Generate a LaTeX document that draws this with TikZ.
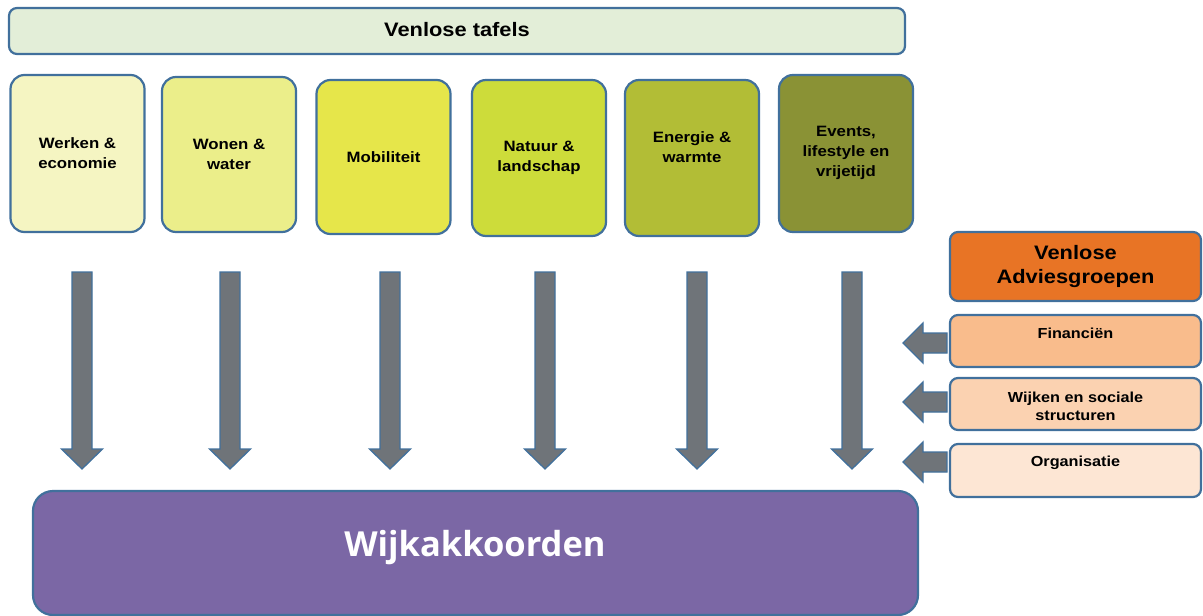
\documentclass[tikz,border=0pt]{standalone}
\usepackage{fontspec}
\setmainfont{Liberation Sans}[FakeStretch=1.12]
\newfontfamily\wijkfont{Open Sans}
\definecolor{edge}{HTML}{41709C}
\definecolor{topfill}{HTML}{E3EED8}
\definecolor{ca}{HTML}{F5F5C2}
\definecolor{cb}{HTML}{EBEE8A}
\definecolor{cc}{HTML}{E6E64A}
\definecolor{cd}{HTML}{CDDC3A}
\definecolor{ce}{HTML}{B2BD36}
\definecolor{cf}{HTML}{8A9235}
\definecolor{orng}{HTML}{E87425}
\definecolor{oa}{HTML}{F9BC8C}
\definecolor{ob}{HTML}{FBD2B1}
\definecolor{oc}{HTML}{FDE6D4}
\definecolor{purp}{HTML}{7B67A5}
\definecolor{arrgray}{HTML}{6F7479}
\newcommand\dnarrow[1]{%
  \draw[blockarrow] ($(#1)+(-10,272)$) -- ($(#1)+(10,272)$) -- ($(#1)+(10,449)$) -- ($(#1)+(20.5,449)$) -- ($(#1)+(0,469)$) -- ($(#1)+(-20.5,449)$) -- ($(#1)+(-10,449)$) -- cycle;}
\newcommand\lfarrow[1]{%
  \draw[blockarrow] ($(903,#1)$) -- ($(923,#1)+(0,-20)$) -- ($(923,#1)+(0,-10)$) -- ($(947,#1)+(0,-10)$) -- ($(947,#1)+(0,10)$) -- ($(923,#1)+(0,10)$) -- ($(923,#1)+(0,20)$) -- cycle;}
\usetikzlibrary{calc}
\begin{document}
\begin{tikzpicture}[x=1pt,y=-1pt,
  box/.style={draw=edge,line width=2.2pt,rounded corners=14pt,inner sep=0pt},
  tbox/.style={box,minimum width=134pt},
  rbox/.style={box,rounded corners=8pt,minimum width=251pt},
  lbl/.style={font=\bfseries\fontsize{15}{20}\selectfont,align=center,text=black},
  slbl/.style={font=\bfseries\fontsize{14.5}{18}\selectfont,align=center,text=black},
  blockarrow/.style={fill=arrgray,draw=edge,line width=1.3pt,line join=miter}]
\useasboundingbox (0,0) rectangle (1203,616);
% top bar
\node[box,rounded corners=8pt,fill=topfill,minimum width=896pt,minimum height=46pt] (top) at (457,31) {};
\node[font=\bfseries\fontsize{19.5}{22}\selectfont] (toplbl) at (457,30) {Venlose tafels};
% tables
\node[tbox,fill=ca,minimum height=157pt] (b1) at (77.5,153.5) {};
\node[tbox,fill=cb,minimum height=155pt] (b2) at (229,154.5) {};
\node[tbox,fill=cc,minimum height=154pt] (b3) at (383.5,157) {};
\node[tbox,fill=cd,minimum height=156pt] (b4) at (539,158) {};
\node[tbox,fill=ce,minimum height=156pt] (b5) at (692,158) {};
\node[tbox,fill=cf,minimum height=157pt] (b6) at (846,153.5) {};
\node[lbl] (t1) at (77.5,153) {Werken \&\\economie};
\node[lbl] (t2) at (229,154) {Wonen \&\\water};
\node[lbl] (t3) at (383.5,157) {Mobiliteit};
\node[lbl] (t4) at (539,157.5) {Natuur \&\\landschap};
\node[lbl] (t5) at (692,147) {Energie \&\\warmte};
\node[lbl] (t6) at (846,153) {Events,\\lifestyle en\\vrijetijd};
% down arrows
\coordinate (a1) at (82,0);
\coordinate (a2) at (230,0);
\coordinate (a3) at (390,0);
\coordinate (a4) at (545,0);
\coordinate (a5) at (697,0);
\coordinate (a6) at (852,0);
\dnarrow{a1}\dnarrow{a2}\dnarrow{a3}\dnarrow{a4}\dnarrow{a5}\dnarrow{a6}
% bottom
\node[box,rounded corners=20pt,fill=purp,minimum width=885pt,minimum height=124pt] (wijk) at (475.5,553) {};
\node[font=\wijkfont\bfseries\fontsize{34.5}{38}\selectfont,text=white] (wijklbl) at (475,548) {Wijkakkoorden};
% right side
\node[rbox,fill=orng,minimum height=69pt] (adv) at (1075.5,266.5) {};
\node[font=\bfseries\fontsize{19.5}{24}\selectfont,align=center] (advlbl) at (1075.5,266) {Venlose\\Adviesgroepen};
\node[rbox,fill=oa,minimum height=52pt] (fin) at (1075.5,341) {};
\node[slbl] (finlbl) at (1075.5,333) {Financiën};
\node[rbox,fill=ob,minimum height=52pt] (wsoc) at (1075.5,404) {};
\node[slbl] (wsoclbl) at (1075.5,406) {Wijken en sociale\\structuren};
\node[rbox,fill=oc,minimum height=53pt] (org) at (1075.5,470.5) {};
\node[slbl] (orglbl) at (1075.5,463) {Organisatie};
\lfarrow{343}\lfarrow{402}\lfarrow{462}
\end{tikzpicture}
\end{document}
